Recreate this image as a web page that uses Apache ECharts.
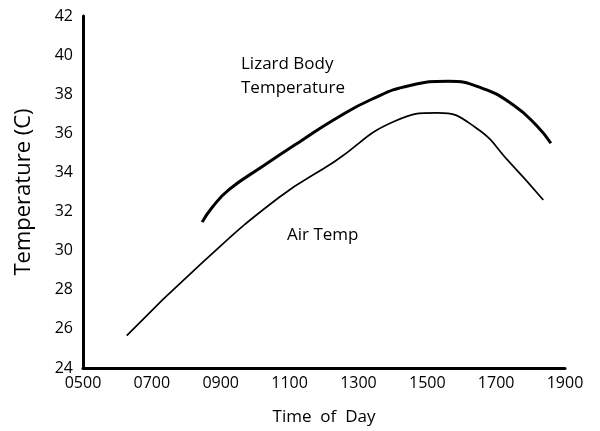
<!DOCTYPE html>
<html>
<head>
<meta charset="utf-8">
<script src="https://cdn.jsdelivr.net/npm/echarts@6/dist/echarts.min.js"></script>
<style>html,body{margin:0;padding:0;background:#fff}#c{width:600px;height:431px}</style>
</head>
<body>
<div id="c"></div>
<script>
const xTicks = [5, 7, 9, 11, 13, 15, 17, 19];
const yTicks = [24, 26, 28, 30, 32, 34, 36, 38, 40, 42];
const lizardHours = [8.46, 8.75, 9.24, 10.21, 11.33, 12.3, 13.37, 14.5, 15.61, 16.6, 17.5, 18.2, 18.59];
const lizardTemps = [31.46, 32.21, 33.12, 34.3, 35.61, 36.71, 37.73, 38.45, 38.66, 38.3, 37.45, 36.35, 35.49];
const airHours = [6.27, 8.41, 10.7, 12.3, 14.05, 15.3, 16.4, 17.4, 18.37];
const airTemps = [25.66, 29.3, 32.73, 34.55, 36.62, 37.05, 36.3, 34.5, 32.59];

const font = '"Open Sans", sans-serif';
const chart = echarts.init(document.getElementById('c'));
chart.setOption({
  animation: false,
  backgroundColor: '#fff',
  grid: { left: 83, right: 35, top: 16, bottom: 61, containLabel: false },
  xAxis: {
    type: 'value', min: xTicks[0], max: xTicks[xTicks.length - 1], interval: 2,
    axisLine: { lineStyle: { color: '#000', width: 3 } },
    axisTick: { show: false }, splitLine: { show: false },
    axisLabel: { color: '#000', fontSize: 16, fontFamily: font, margin: 7,
      formatter: v => (v < 10 ? '0' : '') + v + '00' },
    name: 'Time  of  Day', nameLocation: 'middle', nameGap: 41,
    nameTextStyle: { color: '#000', fontSize: 17, fontFamily: font }
  },
  yAxis: {
    type: 'value', min: yTicks[0], max: yTicks[yTicks.length - 1], interval: 2,
    axisLine: { show: true, lineStyle: { color: '#000', width: 3 } },
    axisTick: { show: false }, splitLine: { show: false },
    axisLabel: { color: '#000', fontSize: 16, fontFamily: font, margin: 10 },
    name: 'Temperature (C)', nameLocation: 'middle', nameGap: 48,
    nameTextStyle: { color: '#000', fontSize: 22, fontFamily: font }
  },
  series: [
    { type: 'line', smooth: 0.5, showSymbol: false,
      lineStyle: { color: '#000', width: 3 },
      data: lizardHours.map((h, i) => [h, lizardTemps[i]]) },
    { type: 'line', smooth: 0.5, showSymbol: false,
      lineStyle: { color: '#000', width: 1.7 },
      data: airHours.map((h, i) => [h, airTemps[i]]) }
  ],
  graphic: [
    { type: 'text', left: 241, top: 52, style: { text: 'Lizard Body\nTemperature', fill: '#000', font: '17px ' + font, lineHeight: 24 } },
    { type: 'text', left: 287, top: 227, style: { text: 'Air Temp', fill: '#000', font: '17px ' + font } }
  ]
});
</script>
</body>
</html>
